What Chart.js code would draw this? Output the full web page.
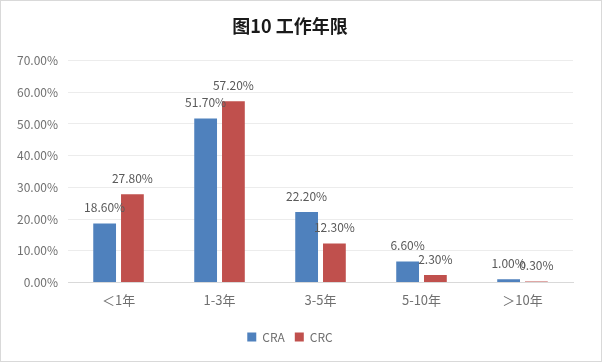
<!DOCTYPE html>
<html>
<head>
<meta charset="utf-8">
<script src="https://cdn.jsdelivr.net/npm/chart.js@4"></script>
<style>
  body { margin: 0; background: #fff; }
  #box { width: 600px; height: 360px; border: 1px solid #d9d9d9; }
</style>
</head>
<body>
<div id="box"><canvas id="grafico" width="600" height="360"></canvas></div>
<script>
// dados do gráfico
var categorias = ['＜1年', '1-3年', '3-5年', '5-10年', '＞10年']
var valoresCRA = [18.6, 51.7, 22.2, 6.6, 1.0]
var valoresCRC = [27.8, 57.2, 12.3, 2.3, 0.3]
var ticksY = [0, 10, 20, 30, 40, 50, 60, 70]

var fonte = "'Noto Sans CJK SC', 'Noto Sans', sans-serif"

// rótulos acima das barras
var rotulos = {
    id: 'rotulos',
    afterDatasetsDraw(chart) {
        var c = chart.ctx
        c.save()
        c.font = '12px ' + fonte
        c.fillStyle = '#595959'
        c.textAlign = 'center'
        c.textBaseline = 'bottom'
        chart.data.datasets.forEach((ds, i) => {
            chart.getDatasetMeta(i).data.forEach((bar, j) => {
                c.fillText(ds.data[j].toFixed(2) + '%', bar.x, bar.y - 10)
            })
        })
        c.restore()
    }
}

var chart = new Chart(document.getElementById('grafico'), {
    type: 'bar',
    data: {
        labels: categorias,
        datasets: [{
            label: 'CRA',
            data: valoresCRA,
            backgroundColor: '#4f81bd',
            categoryPercentage: 0.55,
            barPercentage: 0.82
        }, {
            label: 'CRC',
            data: valoresCRC,
            backgroundColor: '#c0504d',
            categoryPercentage: 0.55,
            barPercentage: 0.82
        }]
    },
    options: {
        responsive: false,
        animation: false,
        layout: { padding: { left: 6, right: 28, top: 0, bottom: 8 } },
        plugins: {
            title: {
                display: true,
                text: '图10 工作年限',
                color: '#1a1a1a',
                font: { family: fonte, size: 18, weight: 'bold' },
                padding: { top: 14, bottom: 24 }
            },
            legend: {
                position: 'bottom',
                labels: {
                    boxWidth: 9, boxHeight: 9,
                    color: '#707070',
                    font: { family: fonte, size: 12 },
                    padding: 10
                }
            },
            tooltip: { enabled: false }
        },
        scales: {
            x: {
                grid: { display: false },
                border: { color: '#d9d9d9' },
                ticks: { color: '#707070', font: { family: fonte, size: 13 }, padding: 2 },
                afterFit: axis => { axis.height += 11 }
            },
            y: {
                min: 0, max: 70,
                afterBuildTicks: axis => { axis.ticks = ticksY.map(v => ({ value: v })) },
                grid: { color: '#ececec', drawTicks: false },
                border: { display: false },
                ticks: {
                    color: '#707070',
                    font: { family: fonte, size: 12 },
                    padding: 10,
                    callback: v => v.toFixed(2) + '%'
                }
            }
        }
    },
    plugins: [rotulos]
})
</script>
</body>
</html>
